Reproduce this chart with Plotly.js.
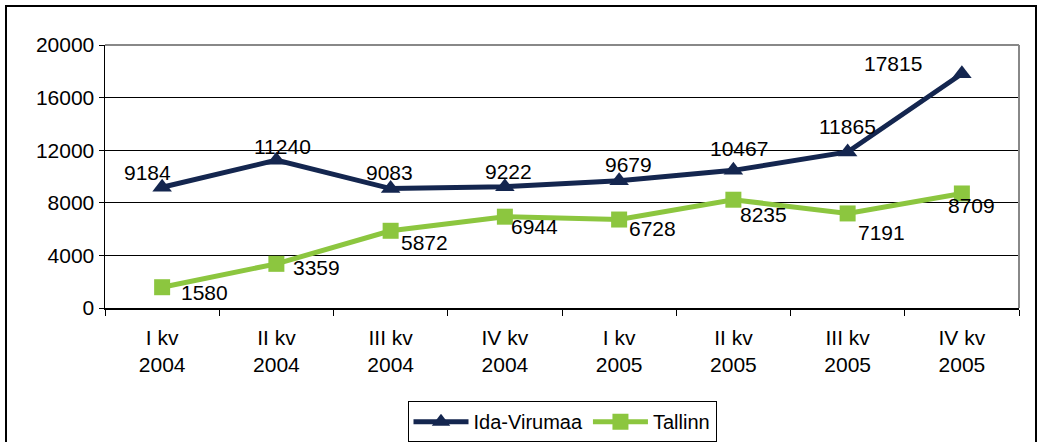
<!DOCTYPE html>
<html>
<head>
<meta charset="utf-8">
<script src="https://cdn.plot.ly/plotly-3.0.1.min.js"></script>
<style>
  html, body { margin: 0; padding: 0; background: #fff; }
  #chart { width: 1041px; height: 442px; }
  #frame { position: absolute; left: 5px; top: 5px; width: 1032px; height: 445px;
           border-left: 2px solid #000; border-top: 2px solid #000; border-right: 2px solid #000;
           pointer-events: none; box-sizing: border-box; }
</style>
</head>
<body>
<div id="chart"></div>
<div id="frame"></div>
<script>
const categories = ["I kv<br>2004", "II kv<br>2004", "III kv<br>2004", "IV kv<br>2004",
                    "I kv<br>2005", "II kv<br>2005", "III kv<br>2005", "IV kv<br>2005"];
const idaVirumaa = [9184, 11240, 9083, 9222, 9679, 10467, 11865, 17815];
const tallinn = [1580, 3359, 5872, 6944, 6728, 8235, 7191, 8709];
const yTicks = [0, 4000, 8000, 12000, 16000, 20000];

// label offsets in pixels (style only)
const idaLabelShift = [[-15, 15], [6, 14], [-1, 16], [4, 15], [9, 16], [6, 22], [0, 25], [-69, 10]];
const talLabelShift = [[42, -5], [40, -4], [34, -12], [30, -10], [33, -9], [30, -15], [34, -19], [10, -12]];

const navy = "#14264f";
const green = "#8cc63f";
const font = "Liberation Sans, Arial, sans-serif";
const fs = 21;

const traces = [
  { x: categories, y: idaVirumaa, name: "Ida-Virumaa", type: "scatter", mode: "lines+markers",
    line: { color: navy, width: 5 }, marker: { symbol: "triangle-up", size: 17, color: navy } },
  { x: categories, y: tallinn, name: "Tallinn", type: "scatter", mode: "lines+markers",
    line: { color: green, width: 5 }, marker: { symbol: "square", size: 16, color: green } }
];

const annotations = [];
idaVirumaa.forEach((v, i) => annotations.push({ x: categories[i], y: v, text: String(v), showarrow: false,
  xshift: idaLabelShift[i][0], yshift: idaLabelShift[i][1], font: { family: font, size: fs, color: "#000" } }));
tallinn.forEach((v, i) => annotations.push({ x: categories[i], y: v, text: String(v), showarrow: false,
  xshift: talLabelShift[i][0], yshift: talLabelShift[i][1], font: { family: font, size: fs, color: "#000" } }));

const layout = {
  width: 1041, height: 442,
  margin: { l: 105, r: 22, t: 45, b: 134 },
  paper_bgcolor: "#fff", plot_bgcolor: "#fff",
  font: { family: font, size: fs, color: "#000" },
  showlegend: true,
  legend: { orientation: "h", x: 0.5, xanchor: "center", yref: "container", y: 0.046, yanchor: "middle",
            bordercolor: "#000", borderwidth: 1, font: { family: font, size: 20, color: "#000" },
            itemwidth: 55, tracegroupgap: 0, traceorder: "normal" },
  xaxis: { type: "category", range: [-0.5, 7.5], tickson: "boundaries", ticks: "outside", ticklen: 6,
           tickcolor: "#000", showgrid: false, showline: true, linecolor: "#000", linewidth: 1.5,
           mirror: false, zeroline: false, automargin: false, tickfont: { family: font, size: fs, color: "#000" },
           ticklabelstandoff: 10 },
  yaxis: { range: [0, 20000], tickvals: yTicks, ticktext: yTicks.map(String), ticks: "outside", ticklen: 5,
           tickcolor: "#000", showgrid: true, gridcolor: "#000", gridwidth: 1, showline: true,
           linecolor: "#000", linewidth: 1.5, zeroline: false, automargin: false,
           tickfont: { family: font, size: fs, color: "#000" } },
  shapes: [
    { type: "line", xref: "paper", yref: "paper", x0: 0, x1: 1, y0: 1, y1: 1, line: { color: "#888", width: 2 } },
    { type: "line", xref: "paper", yref: "paper", x0: 1, x1: 1, y0: 0, y1: 1, line: { color: "#888", width: 2 } }
  ],
  annotations: annotations
};

Plotly.newPlot("chart", traces, layout, { displayModeBar: false, staticPlot: true });
</script>
</body>
</html>
